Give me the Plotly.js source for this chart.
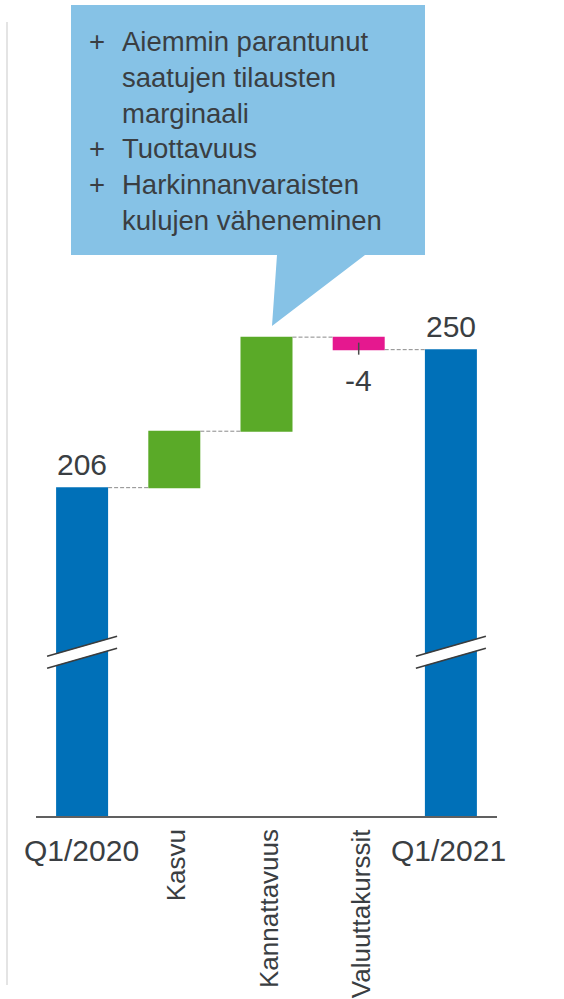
<!DOCTYPE html>
<html><head><meta charset="utf-8">
<script src="https://cdn.plot.ly/plotly-3.0.1.min.js"></script>
<style>html,body{margin:0;padding:0;background:#fff}#chart{width:564px;height:999px}</style>
</head><body><div id="chart"></div>
<script>
// ---- data ----
const categories = ['Q1/2020', 'Kasvu', 'Kannattavuus', 'Valuuttakurssit', 'Q1/2021'];
const measures = ['absolute', 'relative', 'relative', 'relative', 'total'];
const values = [206, 18, 30, -4, 250];
const shownLabels = ['206', '', '', '-4', '250'];
const rotatedLabel = [false, true, true, true, false];
const brokenBars = ['Q1/2020', 'Q1/2021'];
const bulletMarks = ['+', '', '', '+', '+', ''];
const bulletLines = ['Aiemmin parantunut', 'saatujen tilausten', 'marginaali', 'Tuottavuus', 'Harkinnanvaraisten', 'kulujen väheneminen'];

// ---- style ----
const W = 564, H = 999, L = 36, R = 67, T = 0, B = 183;
const pw = W - L - R, ph = H - T - B;
const fx = px => (px - L) / pw;
const fy = py => (H - B - py) / ph;
const FONT = 'Liberation Sans, Arial, sans-serif';
const TXT = '#3a3e42';
const BREAK_AT = 153.5;

// running ends of each bar
let run = 0;
const ends = measures.map((m, i) => {
  if (m === 'absolute') run = values[i];
  else if (m === 'relative') run += values[i];
  return run;
});

const trace = {
  type: 'waterfall',
  x: categories,
  y: values,
  measure: measures,
  increasing: {marker: {color: '#5AAA28'}},
  decreasing: {marker: {color: '#E5188F'}},
  totals: {marker: {color: '#0070B8'}},
  connector: {mode: 'between', line: {color: '#8a8a8a', width: 1, dash: '4px,2px'}},
  textinfo: 'none',
  hoverinfo: 'skip'
};

const annotations = [];
const shapes = [];

// value labels
categories.forEach((c, i) => {
  if (!shownLabels[i]) return;
  const neg = measures[i] === 'relative' && values[i] < 0;
  annotations.push({
    xref: 'x', yref: 'y', x: c, y: ends[i], showarrow: false,
    xanchor: 'center', yanchor: neg ? 'top' : 'bottom', yshift: neg ? -12 : 5,
    text: shownLabels[i], font: {family: FONT, size: 30, color: TXT}
  });
  if (neg) {
    shapes.push({type: 'line', xref: 'x', yref: 'y', xsizemode: 'pixel', xanchor: c,
      ysizemode: 'pixel', yanchor: ends[i], x0: 0, x1: 0, y0: 7, y1: -5,
      line: {color: '#4a4a4a', width: 1.5}, layer: 'above'});
  }
});

// category labels
categories.forEach((c, i) => {
  const rot = rotatedLabel[i];
  annotations.push({
    xref: 'x', yref: 'paper', x: c, y: 0, showarrow: false,
    xanchor: 'center', yanchor: 'top', textangle: rot ? -90 : 0,
    yshift: rot ? -11 : -16, xshift: rot ? 2 : (i === 0 ? -1 : -2),
    text: c, font: {family: FONT, size: rot ? 26 : 30, color: TXT}
  });
});

// axis break marks
brokenBars.forEach(c => {
  const base = {type: 'line', xref: 'x', yref: 'y', xsizemode: 'pixel', xanchor: c,
    ysizemode: 'pixel', yanchor: BREAK_AT, layer: 'above'};
  shapes.push(Object.assign({}, base, {x0: -35, x1: 35, y0: -10, y1: 10, line: {color: '#ffffff', width: 11}}));
  shapes.push(Object.assign({}, base, {x0: -35, x1: 35, y0: -4, y1: 16, line: {color: '#3c3c3c', width: 1.5}}));
  shapes.push(Object.assign({}, base, {x0: -35, x1: 35, y0: -16, y1: 4, line: {color: '#3c3c3c', width: 1.5}}));
});

// callout
const pts = [[71,5],[425,5],[425,255],[365,255],[272,326],[277,255],[71,255]];
const path = pts.map((p, k) => (k ? 'L' : 'M') + fx(p[0]).toFixed(5) + ',' + fy(p[1]).toFixed(5)).join(' ') + ' Z';
shapes.push({type: 'path', xref: 'paper', yref: 'paper', path: path,
  fillcolor: '#86C2E6', line: {width: 0}, layer: 'above'});

annotations.push({xref: 'paper', yref: 'paper', x: fx(120), y: fy(131), xanchor: 'left', yanchor: 'middle',
  align: 'left', showarrow: false, text: bulletLines.join('<br>'), font: {family: FONT, size: 27.5, color: TXT}});
annotations.push({xref: 'paper', yref: 'paper', x: fx(97), y: fy(131), xanchor: 'center', yanchor: 'middle',
  align: 'center', showarrow: false, text: bulletMarks.map(s => s || '\u00a0').join('<br>'), font: {family: FONT, size: 27.5, color: TXT}});

// faint left rule
shapes.push({type: 'line', xref: 'paper', yref: 'paper', x0: fx(7), x1: fx(7), y0: fy(22), y1: fy(985),
  line: {color: '#e4e4e4', width: 2}, layer: 'below'});

const layout = {
  width: W, height: H,
  margin: {l: L, r: R, t: T, b: B, pad: 0},
  paper_bgcolor: '#ffffff', plot_bgcolor: '#ffffff',
  showlegend: false,
  waterfallgap: 0.436,
  xaxis: {type: 'category', range: [-0.5, 4.5], showline: true, linecolor: '#606060', linewidth: 1.5,
    ticks: '', showticklabels: false, showgrid: false, zeroline: false},
  yaxis: {range: [101.3, 361.5], visible: false, showgrid: false, zeroline: false},
  annotations: annotations,
  shapes: shapes
};

Plotly.newPlot('chart', [trace], layout, {staticPlot: true, displayModeBar: false});
</script>
</body></html>
